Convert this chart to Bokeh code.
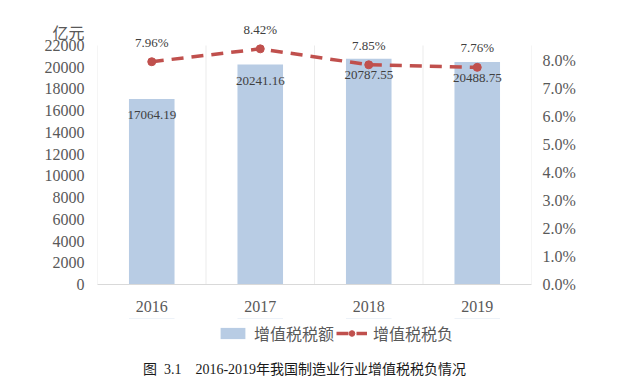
from bokeh.plotting import figure
from bokeh.layouts import column
from bokeh.models import (ColumnDataSource, Range1d, LinearAxis, FixedTicker,
                          NumeralTickFormatter, LabelSet, Label, Legend, LegendItem)
from bokeh.core.properties import value
from bokeh.embed import file_html
from bokeh.resources import INLINE

years = ["2016", "2017", "2018", "2019"]
vat_amount = [17064.19, 20241.16, 20787.55, 20488.75]   # 亿元
vat_burden = [7.96, 8.42, 7.85, 7.76]                    # %
left_ticks = list(range(0, 22001, 2000))
right_ticks = [0.00, 0.01, 0.02, 0.03, 0.04, 0.05, 0.06, 0.07, 0.08]
unit_label = "亿元"
series_names = ["增值税税额", "增值税税负"]
caption = "图\u00a0\u00a03.1\u00a0\u00a0\u00a0\u00a02016-2019年我国制造业行业增值税税负情况"

SERIF = "'Liberation Serif', 'Noto Sans CJK SC'"
CJK = "'Noto Sans CJK SC', 'Liberation Serif'"

LEFT_AXIS_MAX = 22000
RIGHT_AXIS_MAX = 0.0854
HEADROOM = 274 / 239          # frame extends above the top tick so labels stay visible
UNIT_POS = 23100              # where the unit caption sits on the left axis

BAR_COLOR = "#B8CCE4"
LINE_COLOR = "#C0504D"

xs = [i + 1 for i in range(len(years))]
bounds = [x - 0.5 for x in xs] + [xs[-1] + 0.5]
src = ColumnDataSource(dict(
    x=xs,
    amt=vat_amount,
    amt_txt=[f"{v:.2f}" for v in vat_amount],
    rate=[v / 100 for v in vat_burden],
    rate_txt=[f"{v:.2f}%" for v in vat_burden],
))

# ---------------- main chart ----------------
p = figure(width=624, height=318, output_backend="svg", toolbar_location=None,
           x_range=Range1d(bounds[0], bounds[-1]),
           y_range=Range1d(0, LEFT_AXIS_MAX * HEADROOM),
           min_border_left=97, min_border_right=93, min_border_top=10, min_border_bottom=34)
p.outline_line_color = None
p.extra_y_ranges = {"pct": Range1d(0, RIGHT_AXIS_MAX * HEADROOM)}

p.segment(x0=bounds, y0=[0] * len(bounds), x1=bounds, y1=[left_ticks[-1]] * len(bounds),
          line_color="#EBEBEB", line_width=1)
p.vbar(x="x", top="amt", width=0.42, source=src, fill_color=BAR_COLOR, line_color=None)
p.line(x="x", y="rate", source=src, y_range_name="pct", line_color=LINE_COLOR,
       line_width=3.5, line_dash="12 8")
p.scatter(x="x", y="rate", source=src, y_range_name="pct", size=8,
          fill_color=LINE_COLOR, line_color=LINE_COLOR)

xa = p.xaxis[0]
xa.ticker = FixedTicker(ticks=xs)
xa.major_label_overrides = {x: y for x, y in zip(xs, years)}
xa.axis_line_color = "#D9D9D9"
xa.major_tick_line_color = None
xa.minor_tick_line_color = None
xa.major_label_standoff = 10
xa.major_label_text_font = SERIF
xa.major_label_text_font_size = "16px"
xa.major_label_text_color = "#595959"

ya = p.yaxis[0]
ya.ticker = FixedTicker(ticks=left_ticks + [UNIT_POS])
ya.major_label_overrides = {UNIT_POS: unit_label}
ya.axis_line_color = None
ya.major_tick_line_color = None
ya.minor_tick_line_color = None
ya.major_label_standoff = 7
ya.major_label_text_font = SERIF
ya.major_label_text_font_size = "16px"
ya.major_label_text_color = "#595959"

ra = LinearAxis(y_range_name="pct", ticker=FixedTicker(ticks=right_ticks),
                formatter=NumeralTickFormatter(format="0.0%"))
ra.axis_line_color = None
ra.major_tick_line_color = None
ra.minor_tick_line_color = None
ra.major_label_standoff = 5
ra.major_label_text_font = SERIF
ra.major_label_text_font_size = "16px"
ra.major_label_text_color = "#595959"
p.add_layout(ra, "right")

p.xgrid.visible = False
p.ygrid.visible = False

p.add_layout(LabelSet(x="x", y="amt", text="amt_txt", source=src, text_align="center",
                      text_baseline="top", y_offset=-12, text_font=value(SERIF),
                      text_font_size="13px", text_color="#404040"))
p.add_layout(LabelSet(x="x", y="rate", text="rate_txt", source=src, y_range_name="pct",
                      text_align="center", text_baseline="bottom", y_offset=12,
                      text_font=value(SERIF), text_font_size="13px", text_color="#404040"))

# ---------------- legend + caption strip ----------------
q = figure(width=624, height=61, output_backend="svg", toolbar_location=None,
           x_axis_type=None, y_axis_type=None,
           x_range=Range1d(bounds[0], bounds[-1]), y_range=Range1d(-2, -1),
           min_border_left=0, min_border_right=0, min_border_top=0, min_border_bottom=0)
q.outline_line_color = None
q.xgrid.visible = False
q.ygrid.visible = False
# same series (out of this strip's view) so the legend shows their styles
lb = q.vbar(x="x", top="amt", width=0.42, source=src, fill_color=BAR_COLOR, line_color=None)
ll = q.line(x="x", y="rate", source=src, line_color=LINE_COLOR, line_width=3.5, line_dash="12 8")
ls = q.scatter(x="x", y="rate", source=src, size=8, fill_color=LINE_COLOR, line_color=LINE_COLOR)

legend = Legend(items=[LegendItem(label=series_names[0], renderers=[lb]),
                       LegendItem(label=series_names[1], renderers=[ll, ls])],
                orientation="horizontal", location=(120, 34), border_line_color=None,
                background_fill_alpha=0, label_text_font=CJK, label_text_font_size="16px",
                label_text_color="#595959", glyph_width=31, glyph_height=14, spacing=2,
                label_standoff=6, padding=0, margin=0)
q.add_layout(legend, "center")

q.add_layout(Label(x=207, y=10, x_units="screen", y_units="screen", text=caption,
                   text_align="center", text_baseline="middle", text_font=SERIF,
                   text_font_size="14px", text_color="#1a1a1a"))

open("out.html", "w").write(file_html(column(p, q, spacing=0), INLINE))
